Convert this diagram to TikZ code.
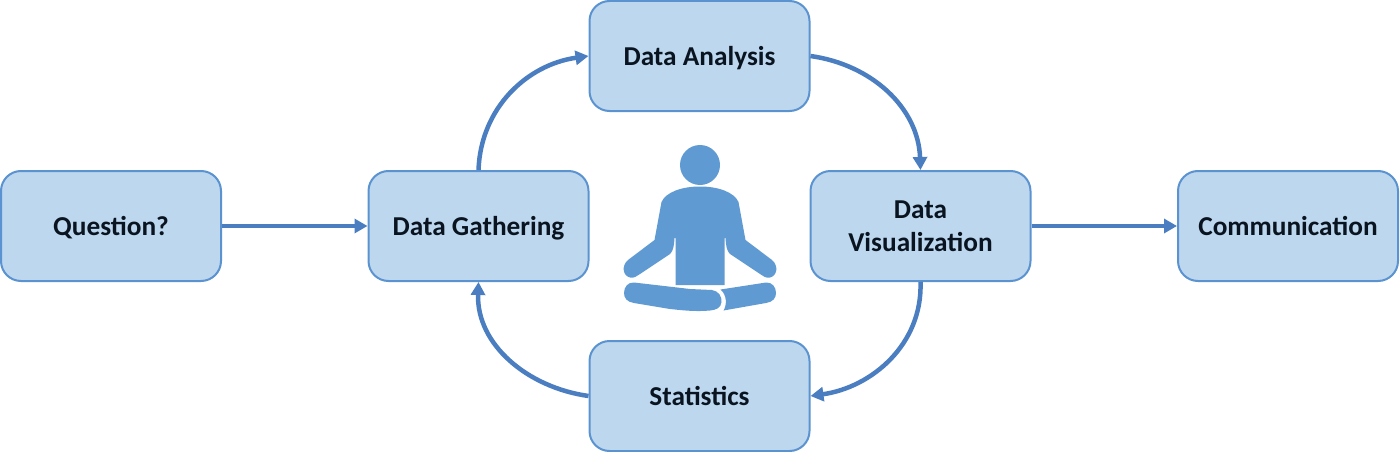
\documentclass[tikz,border=0pt]{standalone}
\usepackage{fontspec}
\setmainfont{Carlito}
\usetikzlibrary{arrows.meta}
\definecolor{boxfill}{HTML}{BDD7EE}
\definecolor{boxline}{HTML}{5B93D1}
\definecolor{arrowblue}{HTML}{4A7EC0}
\definecolor{figblue}{HTML}{5F9AD3}
\definecolor{boxtext}{HTML}{0A1420}
\tikzset{
    stage/.style={draw=boxline,fill=boxfill,line width=2pt,rounded corners=20pt,
        minimum width=220pt,minimum height=110pt,inner sep=0pt,align=center,
        text=boxtext,font=\fontsize{27.3}{33}\selectfont\bfseries},
    oneline/.style={text height=19pt,text depth=0pt},
    flow/.style={draw=arrowblue,line width=4.5pt,-{Triangle[length=13pt,width=14pt]}}
}
\begin{document}
\begin{tikzpicture}[x=1pt,y=-1pt]
    \useasboundingbox (0,0) rectangle (1400,452);

    \node[stage,oneline] (question) at (111,226) {Question?};
    \node[stage,oneline] (gathering) at (478.5,226) {Data Gathering};
    \node[stage,oneline] (analysis) at (699.5,56) {Data Analysis};
    \node[stage] (visual) at (920.5,226) {Data\\Visualization};
    \node[stage,oneline] (comm) at (1288,226) {Communication};
    \node[stage,oneline] (stats) at (699.5,396) {Statistics};

    \draw[flow] (question) -- (gathering);
    \draw[flow] (visual) -- (comm);
    \draw[flow] (gathering.north) to[out=88,in=188] (analysis.west);
    \draw[flow] (analysis.east) to[out=-8,in=92] (visual.north);
    \draw[flow] (visual.south) to[out=272,in=8] (stats.east);
    \draw[flow] (stats.west) to[out=172,in=268] (gathering.south);

    % head
    \fill[figblue] (700,165) circle(20);
    % body and arms
    \fill[figblue] (700,186.5) .. controls (682,186.5) and (666,192) .. (661.5,202)
        -- (654.5,240) -- (628,260)
        .. controls (621,266) and (623,276) .. (630,277.5)
        .. controls (634,278.5) and (637,276) .. (640,274)
        -- (670,254) .. controls (673,251) and (674,247) .. (674.5,238)
        -- (675.5,238) -- (675.5,285) -- (724.5,285) -- (724.5,238) -- (725.5,238)
        .. controls (726,247) and (727,251) .. (730,254)
        -- (760,274) .. controls (763,276) and (766,278.5) .. (770,277.5)
        .. controls (777,276) and (779,266) .. (772,260)
        -- (745.5,240) -- (738.5,202)
        .. controls (734,192) and (718,186.5) .. (700,186.5) -- cycle;
    % legs
    \fill[figblue] (634,282.5) -- (690,289) -- (712,290)
        .. controls (719,291) and (722,297) .. (721.5,302)
        .. controls (721,308) and (716,310) .. (710,310.5)
        .. controls (695,312) and (680,310) .. (670,309)
        -- (634,303) .. controls (627,302) and (624,298) .. (624,293)
        .. controls (624,287) and (628,282) .. (634,282.5) -- cycle;
    \fill[figblue] (766,282.5) .. controls (772,282) and (776,287) .. (776,293)
        .. controls (776,298) and (773,302) .. (766,303)
        -- (723.5,310.5) .. controls (727,305) and (727,295) .. (720.5,289.5)
        -- (766,282.5) -- cycle;
\end{tikzpicture}
\end{document}
